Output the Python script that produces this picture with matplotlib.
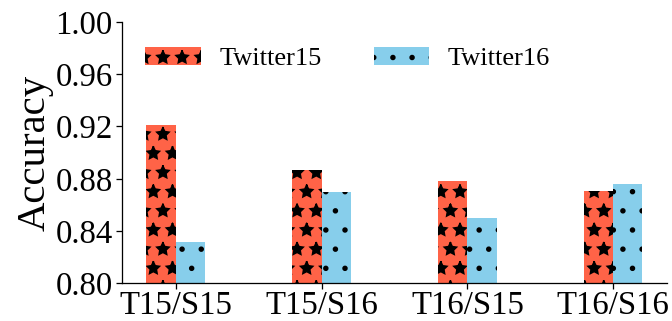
import numpy as np
import matplotlib.pyplot as plt

# Cross-dataset accuracy (train/test settings)
settings = ['T15/S15', 'T15/S16', 'T16/S15', 'T16/S16']
twitter15 = [0.921, 0.887, 0.878, 0.871]
twitter16 = [0.832, 0.870, 0.850, 0.876]
yticks = [0.80, 0.84, 0.88, 0.92, 0.96, 1.00]

plt.rcParams['font.family'] = ['Liberation Serif', 'DejaVu Serif']
plt.rcParams['hatch.linewidth'] = 1.0

# higher dpi so the hatch pattern gets the coarser spacing of the original
dpi = 115
fig = plt.figure(figsize=(672 / dpi, 321 / dpi), dpi=dpi)
ax = fig.add_axes([0.181, 0.117, 0.812, 0.815])

x = np.arange(len(settings))
w = 0.2
ax.bar(x - w / 2, twitter15, w, color='tomato', edgecolor='black',
       linewidth=0, hatch='*', label='Twitter15')
ax.bar(x + w / 2, twitter16, w, color='skyblue', edgecolor='black',
       linewidth=0, hatch='.', label='Twitter16')

ax.set_ylim(0.80, 1.00)
ax.set_xlim(-0.37, 3.37)
ax.set_yticks(yticks)
ax.set_yticklabels(['%.2f' % v for v in yticks])
ax.set_xticks(x)
ax.set_xticklabels(settings)
ax.tick_params(labelsize=20.5, length=4, pad=1.5)
ax.tick_params(axis='x', pad=0.5)
ax.set_ylabel('Accuracy', fontsize=25.5, labelpad=1)

ax.spines['top'].set_visible(False)
ax.spines['right'].set_visible(False)

ax.legend(loc='upper left', bbox_to_anchor=(0.0, 0.995), ncol=2,
          frameon=False, fontsize=16.5, handlelength=2.1, handleheight=0.7,
          handletextpad=0.7, columnspacing=2.0)

fig.savefig('out.png', dpi=dpi)
